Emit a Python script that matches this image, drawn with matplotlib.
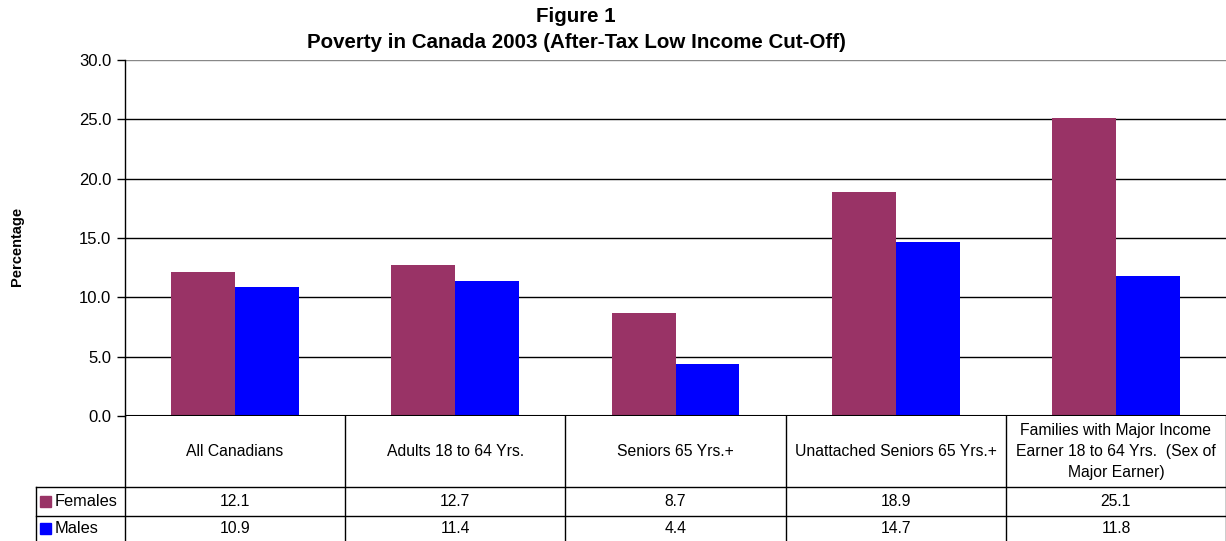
import matplotlib.pyplot as plt
from matplotlib.patches import Rectangle
import matplotlib.transforms as mtransforms

plt.rcParams['font.family'] = ['Liberation Sans', 'DejaVu Sans']

# data
categories = ["All Canadians", "Adults 18 to 64 Yrs.", "Seniors 65 Yrs.+",
              "Unattached Seniors 65 Yrs.+",
              "Families with Major Income\nEarner 18 to 64 Yrs.  (Sex of\nMajor Earner)"]
series_names = ["Females", "Males"]
females = [12.1, 12.7, 8.7, 18.9, 25.1]
males = [10.9, 11.4, 4.4, 14.7, 11.8]
yticks = [0, 5, 10, 15, 20, 25, 30]

colors = ["#993366", "#0000FF"]
tfs = 11.3  # table font size

fig = plt.figure(figsize=(12.26, 5.41), dpi=100)
ax = fig.add_axes([125 / 1226, 1 - 416 / 541, 1 - 125 / 1226, 356 / 541])

x = list(range(len(categories)))
w = 0.29
ax.bar([i - w / 2 for i in x], females, width=w, color=colors[0], zorder=3)
ax.bar([i + w / 2 for i in x], males, width=w, color=colors[1], zorder=3)

ax.set_xlim(-0.5, len(categories) - 0.5)
ax.set_ylim(0, 30)
ax.set_yticks(yticks)
ax.set_yticklabels([f"{v:.1f}" for v in yticks], fontsize=12)
ax.tick_params(axis='y', direction='out', length=6, width=1, pad=4)
ax.set_xticks([])

# horizontal gridlines
for v in yticks[1:-1]:
    ax.axhline(v, color='black', lw=1, zorder=1)
ax.axhline(30, color='#888888', lw=1, zorder=1)

for s in ['top', 'right', 'bottom']:
    ax.spines[s].set_visible(False)
ax.spines['left'].set_linewidth(1)
ax.axhline(0, color='black', lw=1.5, zorder=4)

fig.text(17 / 1226, 1 - 246 / 541, "Percentage", rotation=90, ha='center',
         va='center', fontsize=10.5, fontweight='bold')

fig.text(576 / 1226, 1 - 16 / 541, "Figure 1", ha='center', va='center',
         fontsize=14.8, fontweight='bold')
fig.text(576 / 1226, 1 - 42 / 541,
         "Poverty in Canada 2003 (After-Tax Low Income Cut-Off)",
         ha='center', va='center', fontsize=14.8, fontweight='bold')

# data table below the axis
trans = mtransforms.blended_transform_factory(ax.transData, ax.transAxes)
y_cat = -71 / 356
y_fem = -100 / 356
y_mal = -125 / 356
x_left = -0.5 - 89 / 220.2
x_right = len(categories) - 0.5

line_kw = dict(transform=trans, color='black', lw=1, clip_on=False)
ax.plot([x_left, x_right], [y_cat, y_cat], **line_kw)
ax.plot([x_left, x_right], [y_fem, y_fem], **line_kw)
ax.plot([x_left, x_left], [y_cat, y_mal], **line_kw)
for b in range(len(categories) + 1):
    ax.plot([b - 0.5, b - 0.5], [0, y_mal], **line_kw)

for i, cat in enumerate(categories):
    ax.text(i, y_cat / 2, cat, transform=trans, ha='center', va='center',
            fontsize=tfs, linespacing=1.5, clip_on=False)
    ax.text(i, (y_cat + y_fem) / 2, f"{females[i]:.1f}", transform=trans,
            ha='center', va='center', fontsize=tfs, clip_on=False)
    ax.text(i, (y_fem + y_mal) / 2, f"{males[i]:.1f}", transform=trans,
            ha='center', va='center', fontsize=tfs, clip_on=False)

# legend keys in the table's row headers
rows = [(y_cat + y_fem) / 2, (y_fem + y_mal) / 2]
for name, col, yc in zip(series_names, colors, rows):
    ypix = ax.transAxes.transform((0, yc))[1]
    fig.patches.append(Rectangle((40, ypix - 5.5), 11, 11, transform=None,
                                 color=col, figure=fig))
    fig.text(55 / 1226, ypix / 541, name, ha='left', va='center',
             fontsize=tfs + 0.5)

plt.savefig("out.png", dpi=100)
